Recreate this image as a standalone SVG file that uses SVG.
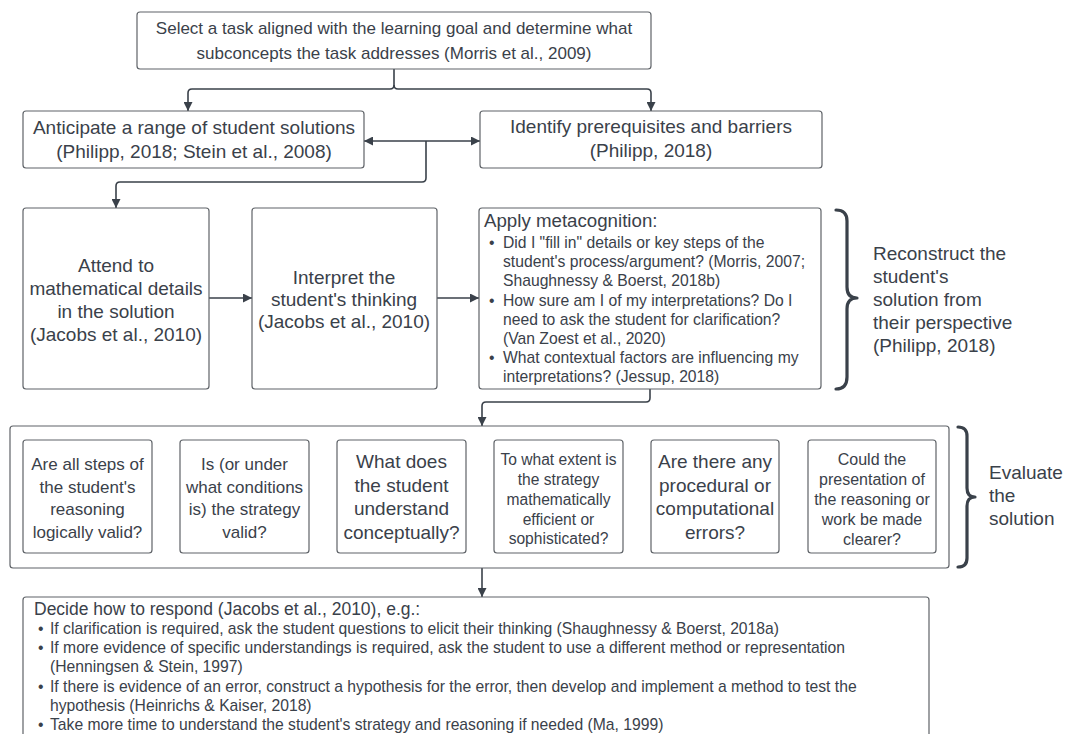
<svg xmlns="http://www.w3.org/2000/svg" width="1065" height="734" viewBox="0 0 1065 734">
<defs>
<style>
.box{fill:#fff;stroke:#5f6368;stroke-width:1.2}
.t{font-family:"Liberation Sans",Arial,sans-serif;fill:#3a414a}
.c{text-anchor:middle}
.ln{fill:none;stroke:#3a414a;stroke-width:1.6}
.br{fill:none;stroke:#3a414a;stroke-width:3.2;stroke-linecap:round;stroke-linejoin:round}
</style>
<marker id="ah" viewBox="0 0 10 10" refX="10" refY="5" markerWidth="9" markerHeight="9" markerUnits="userSpaceOnUse" orient="auto-start-reverse">
<path d="M0 0 L10 5 L0 10 z" fill="#3a414a"/>
</marker>
</defs>
<rect width="1065" height="734" fill="#fff"/>
<g id="connectors">
<path class="ln" d="M394 69 V85 Q394 89 390 89 H192 Q188 89 188 93 V111" marker-end="url(#ah)"/>
<path class="ln" d="M394 85 Q394 89 398 89 H647 Q651 89 651 93 V111" marker-end="url(#ah)"/>
<path class="ln" d="M364 141 H480" marker-start="url(#ah)" marker-end="url(#ah)"/>
<path class="ln" d="M426 141 V178 Q426 182 422 182 H120 Q116 182 116 186 V208" marker-end="url(#ah)"/>
<path class="ln" d="M209 298 H252" marker-end="url(#ah)"/>
<path class="ln" d="M437 298 H479" marker-end="url(#ah)"/>
<path class="ln" d="M650 389 V398 Q650 402 646 402 H486 Q482 402 482 406 V426" marker-end="url(#ah)"/>
<path class="ln" d="M482 568 V597" marker-end="url(#ah)"/>
</g>
<g id="n-select">
<rect class="box" x="137" y="12" width="514" height="57" rx="3"/>
<text class="t c" font-size="17" x="394" y="34">Select a task aligned with the learning goal and determine what</text>
<text class="t c" font-size="17" x="394" y="59">subconcepts the task addresses (Morris et al., 2009)</text>
</g>
<g id="n-anticipate">
<rect class="box" x="23" y="111" width="341" height="57" rx="3"/>
<text class="t c" font-size="19" x="194" y="134">Anticipate a range of student solutions</text>
<text class="t c" font-size="19" x="194" y="158">(Philipp, 2018; Stein et al., 2008)</text>
</g>
<g id="n-identify">
<rect class="box" x="480" y="111" width="342" height="57" rx="3"/>
<text class="t c" font-size="19" x="651" y="133">Identify prerequisites and barriers</text>
<text class="t c" font-size="19" x="651" y="157">(Philipp, 2018)</text>
</g>
<g id="n-attend">
<rect class="box" x="23" y="208" width="186" height="181" rx="3"/>
<text class="t c" font-size="19" x="116" y="272">Attend to</text>
<text class="t c" font-size="19" x="116" y="295">mathematical details</text>
<text class="t c" font-size="19" x="116" y="318">in the solution</text>
<text class="t c" font-size="19" x="116" y="341">(Jacobs et al., 2010)</text>
</g>
<g id="n-interpret">
<rect class="box" x="252" y="208" width="185" height="181" rx="3"/>
<text class="t c" font-size="19" x="344" y="284">Interpret the</text>
<text class="t c" font-size="19" x="344" y="306">student's thinking</text>
<text class="t c" font-size="19" x="344" y="328">(Jacobs et al., 2010)</text>
</g>
<g id="n-meta">
<rect class="box" x="479" y="208" width="342" height="181" rx="3"/>
<text class="t" font-size="18.7" x="484" y="227">Apply metacognition:</text>
<g font-size="15.7" class="t">
<text x="489" y="248">•</text>
<text x="503" y="248">Did I "fill in" details or key steps of the</text>
<text x="503" y="267">student's process/argument? (Morris, 2007;</text>
<text x="503" y="286">Shaughnessy &amp; Boerst, 2018b)</text>
<text x="489" y="306">•</text>
<text x="503" y="306">How sure am I of my interpretations? Do I</text>
<text x="503" y="325">need to ask the student for clarification?</text>
<text x="503" y="344">(Van Zoest et al., 2020)</text>
<text x="489" y="363">•</text>
<text x="503" y="363">What contextual factors are influencing my</text>
<text x="503" y="382">interpretations? (Jessup, 2018)</text>
</g>
</g>
<g id="n-reconstruct">
<path class="br" d="M836 210 Q847 210 847 221 V287 Q847 298 857 298 Q847 298 847 309 V377 Q847 389 836 389"/>
<g class="t" font-size="19">
<text x="873" y="260">Reconstruct the</text>
<text x="873" y="283">student's</text>
<text x="873" y="306">solution from</text>
<text x="873" y="329">their perspective</text>
<text x="873" y="352">(Philipp, 2018)</text>
</g>
</g>
<g id="n-evaluate-group">
<rect class="box" x="10" y="426" width="939" height="142" rx="3"/>
</g>
<g id="n-q1">
<rect class="box" x="23" y="440" width="129" height="113" rx="3"/>
<g class="t c" font-size="17">
<text x="87.5" y="470">Are all steps of</text>
<text x="87.5" y="492.5">the student's</text>
<text x="87.5" y="515">reasoning</text>
<text x="87.5" y="537.5">logically valid?</text>
</g>
</g>
<g id="n-q2">
<rect class="box" x="180" y="440" width="129" height="113" rx="3"/>
<g class="t c" font-size="17">
<text x="244.5" y="470">Is (or under</text>
<text x="244.5" y="492.5">what conditions</text>
<text x="244.5" y="515">is) the strategy</text>
<text x="244.5" y="537.5">valid?</text>
</g>
</g>
<g id="n-q3">
<rect class="box" x="337" y="440" width="129" height="113" rx="3"/>
<g class="t c" font-size="19">
<text x="401.5" y="468">What does</text>
<text x="401.5" y="491.5">the student</text>
<text x="401.5" y="515">understand</text>
<text x="401.5" y="538.5">conceptually?</text>
</g>
</g>
<g id="n-q4">
<rect class="box" x="494" y="440" width="129" height="113" rx="3"/>
<g class="t c" font-size="15.6">
<text x="558.5" y="465">To what extent is</text>
<text x="558.5" y="485">the strategy</text>
<text x="558.5" y="505">mathematically</text>
<text x="558.5" y="524.5">efficient or</text>
<text x="558.5" y="544">sophisticated?</text>
</g>
</g>
<g id="n-q5">
<rect class="box" x="651" y="440" width="128" height="113" rx="3"/>
<g class="t c" font-size="19">
<text x="715" y="468">Are there any</text>
<text x="715" y="491.5">procedural or</text>
<text x="715" y="515">computational</text>
<text x="715" y="538.5">errors?</text>
</g>
</g>
<g id="n-q6">
<rect class="box" x="808" y="440" width="128" height="113" rx="3"/>
<g class="t c" font-size="16">
<text x="872" y="465">Could the</text>
<text x="872" y="485">presentation of</text>
<text x="872" y="505">the reasoning or</text>
<text x="872" y="525">work be made</text>
<text x="872" y="545">clearer?</text>
</g>
</g>
<g id="n-evaluate">
<path class="br" d="M958 427 Q967 427 967 436 V488 Q967 497 975 497 Q967 497 967 506 V558 Q967 567 958 567"/>
<g class="t" font-size="19">
<text x="989" y="479">Evaluate</text>
<text x="989" y="502">the</text>
<text x="989" y="525">solution</text>
</g>
</g>
<g id="n-respond">
<rect class="box" x="23" y="597" width="906" height="160" rx="3"/>
<text class="t" font-size="17.5" x="34" y="615">Decide how to respond (Jacobs et al., 2010), e.g.:</text>
<g class="t" font-size="15.7">
<text x="38" y="634">•</text>
<text x="50" y="634">If clarification is required, ask the student questions to elicit their thinking (Shaughnessy &amp; Boerst, 2018a)</text>
<text x="38" y="653">•</text>
<text x="50" y="653">If more evidence of specific understandings is required, ask the student to use a different method or representation</text>
<text x="50" y="672">(Henningsen &amp; Stein, 1997)</text>
<text x="38" y="692">•</text>
<text x="50" y="692">If there is evidence of an error, construct a hypothesis for the error, then develop and implement a method to test the</text>
<text x="50" y="711">hypothesis (Heinrichs &amp; Kaiser, 2018)</text>
<text x="38" y="730">•</text>
<text x="50" y="730">Take more time to understand the student's strategy and reasoning if needed (Ma, 1999)</text>
</g>
</g>
</svg>
